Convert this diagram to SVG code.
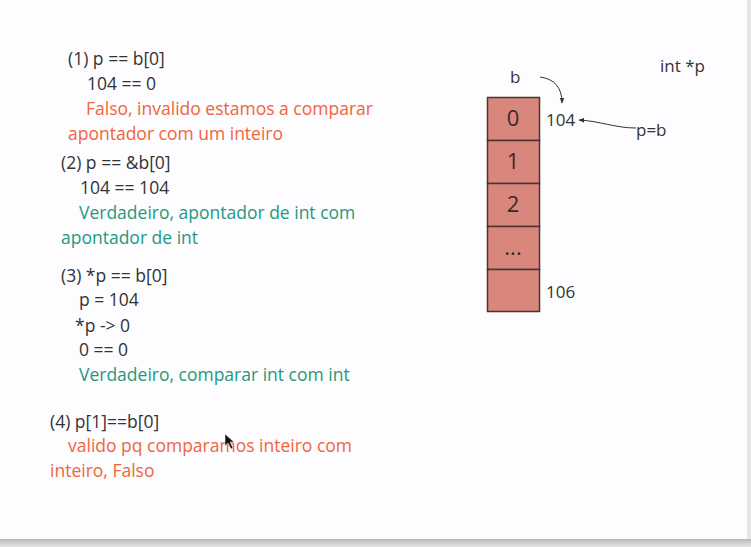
<svg xmlns="http://www.w3.org/2000/svg" width="751" height="547" viewBox="0 0 751 547">
<defs>
<style>
text{font-family:"Open Sans","Noto Sans","DejaVu Sans",sans-serif;font-size:17px;fill:#333}
#notes text{font-size:17.5px}
.r{fill:#f0653a}
.g{fill:#23997f}
.cell{fill:#d9867c;stroke:#4a3430;stroke-width:1.5}
.cl{font-size:22px;text-anchor:middle;fill:#3a2a28}
.conn{fill:none;stroke:#333;stroke-width:1}
</style>
<marker id="ah" viewBox="0 0 10 10" refX="9" refY="5" markerWidth="6" markerHeight="6" orient="auto">
<path d="M0,1 L10,5 L0,9 z" fill="#333"/>
</marker>
<linearGradient id="bar" x1="0" y1="0" x2="0" y2="1">
<stop offset="0" stop-color="#b8b8ba"/>
<stop offset="1" stop-color="#e4e4e6"/>
</linearGradient>
</defs>
<rect width="751" height="547" fill="#fdfcfe"/>
<rect x="747" y="0" width="4" height="540" fill="#e6e6e8"/>
<rect x="0" y="539" width="751" height="8" fill="url(#bar)"/>

<g id="notes">
<text x="68" y="65">(1) p == b[0]</text>
<text x="87" y="90">104 == 0</text>
<text x="86" y="115" class="r">Falso, invalido estamos a comparar</text>
<text x="68" y="140" class="r">apontador com um inteiro</text>
<text x="61" y="169">(2) p == &amp;b[0]</text>
<text x="80" y="194">104 == 104</text>
<text x="79" y="219" class="g">Verdadeiro, apontador de int com</text>
<text x="61" y="244" class="g">apontador de int</text>
<text x="61" y="282">(3) *p == b[0]</text>
<text x="79" y="306">p = 104</text>
<text x="75" y="332">*p -&gt; 0</text>
<text x="79" y="356">0 == 0</text>
<text x="79" y="381" class="g">Verdadeiro, comparar int com int</text>
<text x="50" y="428">(4) p[1]==b[0]</text>
<text x="68" y="452" class="r">valido pq comparamos inteiro com</text>
<text x="50" y="477" class="r">inteiro, Falso</text>
</g>

<g id="array-b">
<rect class="cell" x="487.5" y="97.5" width="52" height="43"/>
<rect class="cell" x="487.5" y="140.5" width="52" height="43"/>
<rect class="cell" x="487.5" y="183.5" width="52" height="43"/>
<rect class="cell" x="487.5" y="226.5" width="52" height="43"/>
<rect class="cell" x="487.5" y="269.5" width="52" height="42"/>
<text class="cl" x="513" y="126">0</text>
<text class="cl" x="513" y="169">1</text>
<text class="cl" x="513" y="212">2</text>
<text class="cl" x="513" y="255">...</text>
</g>

<g id="label-b"><text x="510" y="83">b</text></g>
<g id="addr-104"><text x="546" y="126">104</text></g>
<g id="addr-106"><text x="546" y="298">106</text></g>
<g id="label-pb"><text x="636" y="136">p=b</text></g>
<g id="label-intp"><text x="660" y="72">int *p</text></g>

<g id="connectors">
<path class="conn" d="M540,77 C555,79 562,88 562,103" marker-end="url(#ah)"/>
<path class="conn" d="M636,128 C615,128 600,121 579,120" marker-end="url(#ah)"/>
</g>

<path d="M225,434 L225,446 L228,443 L231,449 L233,448 L230,442 L234,442 Z" fill="#111" stroke="#fff" stroke-width="0.5"/>
</svg>
